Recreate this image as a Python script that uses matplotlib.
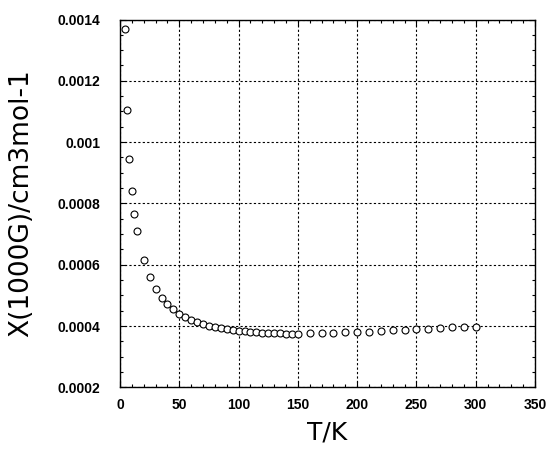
import matplotlib
matplotlib.use("Agg")
import matplotlib.pyplot as plt
from matplotlib.ticker import MultipleLocator, FixedLocator, FixedFormatter

T = [4, 6, 8, 10, 12, 14, 20, 25, 30, 35, 40, 45, 50, 55, 60, 65, 70, 75, 80, 85,
     90, 95, 100, 105, 110, 115, 120, 125, 130, 135, 140, 145, 150,
     160, 170, 180, 190, 200, 210, 220, 230, 240, 250, 260, 270, 280, 290, 300]
chi = [0.001369, 0.001105, 0.000945, 0.000840, 0.000764, 0.000710, 0.000616, 0.000559,
       0.000520, 0.000490, 0.000471, 0.000454, 0.000439, 0.000428, 0.000420, 0.000412,
       0.000406, 0.000401, 0.000397, 0.000392, 0.000390, 0.000387, 0.000384, 0.000383,
       0.000380, 0.000379, 0.000378, 0.000377, 0.000376, 0.000376, 0.000375, 0.000375,
       0.000375,
       0.000376, 0.000377, 0.000378, 0.000379, 0.000380, 0.000382, 0.000384, 0.000387,
       0.000388, 0.000389, 0.000391, 0.000394, 0.000396, 0.000397, 0.000398]

ytick_vals = [0.0002, 0.0004, 0.0006, 0.0008, 0.001, 0.0012, 0.0014]
ytick_labels = ["0.0002", "0.0004", "0.0006", "0.0008", "0.001", "0.0012", "0.0014"]
xtick_vals = [0, 50, 100, 150, 200, 250, 300, 350]
xtick_labels = ["0", "50", "100", "150", "200", "250", "300", "350"]

tick_family = ["Liberation Sans", "DejaVu Sans"]

fig = plt.figure(figsize=(5.47, 4.49), dpi=100)
ax = fig.add_axes([120/547, 1-387.3/449, (535-120)/547, (387.3-19.5)/449])

ax.plot(T, chi, linestyle="none", marker="o", markersize=5.0,
        markerfacecolor="white", markeredgecolor="black", markeredgewidth=0.8)

ax.set_xlim(0, 350)
ax.set_ylim(0.0002, 0.0014)
ax.xaxis.set_major_locator(FixedLocator(xtick_vals))
ax.xaxis.set_major_formatter(FixedFormatter(xtick_labels))
ax.yaxis.set_major_locator(FixedLocator(ytick_vals))
ax.yaxis.set_major_formatter(FixedFormatter(ytick_labels))
ax.xaxis.set_minor_locator(MultipleLocator(10))
ax.yaxis.set_minor_locator(MultipleLocator(0.00005))

ax.tick_params(which="both", direction="in", top=True, right=True, color="black")
ax.tick_params(which="major", length=4, width=0.8)
ax.tick_params(which="minor", length=2.5, width=0.8)
ax.tick_params(axis="y", which="major", pad=14)
ax.tick_params(axis="x", which="major", pad=8)
for lab in ax.get_xticklabels() + ax.get_yticklabels():
    lab.set_fontfamily(tick_family)
    lab.set_fontweight("bold")
    lab.set_fontsize(10)

ax.grid(True, which="major", color="black", linestyle=(0, (2, 2)), linewidth=0.8)
for s in ax.spines.values():
    s.set_linewidth(1.0)
    s.set_color("black")

ax.set_xlabel("T/K", family="DejaVu Sans", fontsize=18, labelpad=6)
ax.set_ylabel("X(1000G)/cm3mol-1", family="DejaVu Sans", fontsize=19, labelpad=17)

fig.savefig("out.png", dpi=100)
